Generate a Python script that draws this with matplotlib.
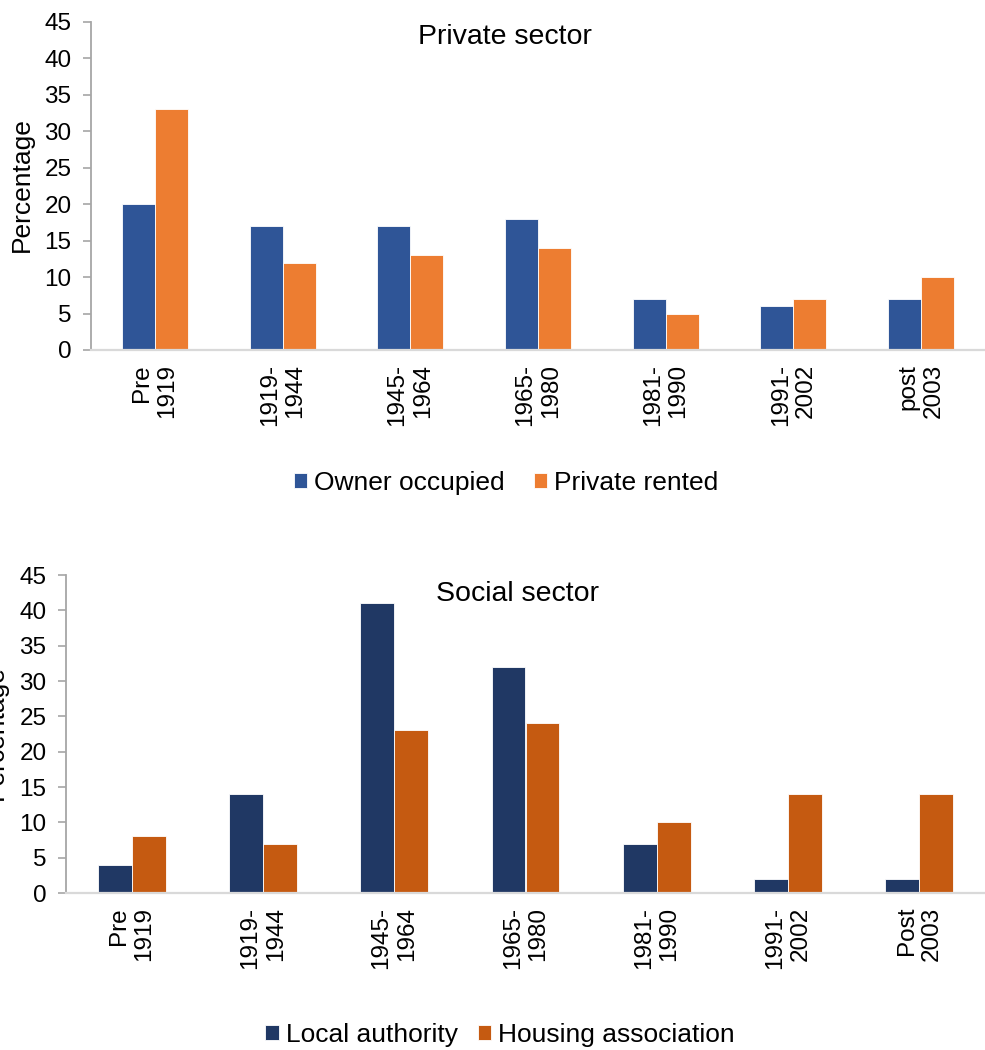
import matplotlib
matplotlib.use("Agg")
import matplotlib.pyplot as plt
import numpy as np

plt.rcParams['font.family'] = ['Liberation Sans', 'DejaVu Sans']

# Private sector
private_periods = ["Pre\n1919", "1919-\n1944", "1945-\n1964", "1965-\n1980",
                   "1981-\n1990", "1991-\n2002", "post\n2003"]
owner_occupied = [20, 17, 17, 18, 7, 6, 7]
private_rented = [33, 12, 13, 14, 5, 7, 10]

# Social sector
social_periods = ["Pre\n1919", "1919-\n1944", "1945-\n1964", "1965-\n1980",
                  "1981-\n1990", "1991-\n2002", "Post\n2003"]
local_authority = [4, 14, 41, 32, 7, 2, 2]
housing_association = [8, 7, 23, 24, 10, 14, 14]

W, H = 985, 1050
fig = plt.figure(figsize=(W / 100, H / 100), dpi=100)

TICK_FS = 17.5
LABEL_FS = 19
TITLE_FS = 20.5
LEGEND_FS = 19


def px_axes(left, top, right, bottom):
    return fig.add_axes([left / W, 1 - bottom / H, (right - left) / W, (bottom - top) / H])


def draw_panel(ax, periods, s1, s2, c1, c2, n1, n2):
    x = np.arange(len(periods))
    bw = 0.258
    b1 = ax.bar(x - bw / 2, s1, bw, color=c1, edgecolor='white', linewidth=0.6, label=n1)
    b2 = ax.bar(x + bw / 2, s2, bw, color=c2, edgecolor='white', linewidth=0.6, label=n2)
    ax.set_xlim(-0.5, len(periods) - 0.5)
    ax.set_ylim(0, 45)
    ax.set_yticks(range(0, 46, 5))
    ax.set_xticks(x)
    ax.set_xticklabels(periods, rotation=90, ha='center', va='top',
                       multialignment='right', fontsize=TICK_FS, linespacing=1.2)
    ax.tick_params(axis='x', length=0, pad=10)
    ax.tick_params(axis='y', length=6, width=1.2, color='#A6A6A6',
                   labelsize=TICK_FS, pad=8)
    for s in ('top', 'right'):
        ax.spines[s].set_visible(False)
    ax.spines['left'].set_color('#A6A6A6')
    ax.spines['left'].set_linewidth(1.3)
    ax.spines['bottom'].set_color('#D9D9D9')
    ax.spines['bottom'].set_linewidth(1.6)
    return b1, b2


legend_kw = dict(loc='center', ncol=2, frameon=False, fontsize=LEGEND_FS,
                 handlelength=0.52, handleheight=0.52, handletextpad=0.25)

# Top panel
ax1 = px_axes(91, 22, 985, 350)
h = draw_panel(ax1, private_periods, owner_occupied, private_rented,
               '#2F5597', '#ED7D31', 'Owner occupied', 'Private rented')
fig.text(505 / W, 1 - 37 / H, 'Private sector', ha='center', va='center', fontsize=TITLE_FS)
fig.text(22 / W, 1 - 185 / H, 'Percentage', rotation=90, ha='center', va='center',
         fontsize=LABEL_FS)
fig.legend(handles=h, bbox_to_anchor=(506 / W, 1 - 483 / H), columnspacing=1.1, **legend_kw)

# Bottom panel
ax2 = px_axes(66, 575, 985, 893)
h2 = draw_panel(ax2, social_periods, local_authority, housing_association,
                '#203864', '#C55A11', 'Local authority', 'Housing association')
fig.text(517 / W, 1 - 594 / H, 'Social sector', ha='center', va='center', fontsize=TITLE_FS)
fig.text(-4 / W, 1 - 733 / H, 'Percentage', rotation=90, ha='center', va='center',
         fontsize=LABEL_FS)
fig.legend(handles=h2, bbox_to_anchor=(500 / W, 1 - 1035 / H), columnspacing=0.75, **legend_kw)

fig.savefig('out.png', dpi=100, facecolor='white')
